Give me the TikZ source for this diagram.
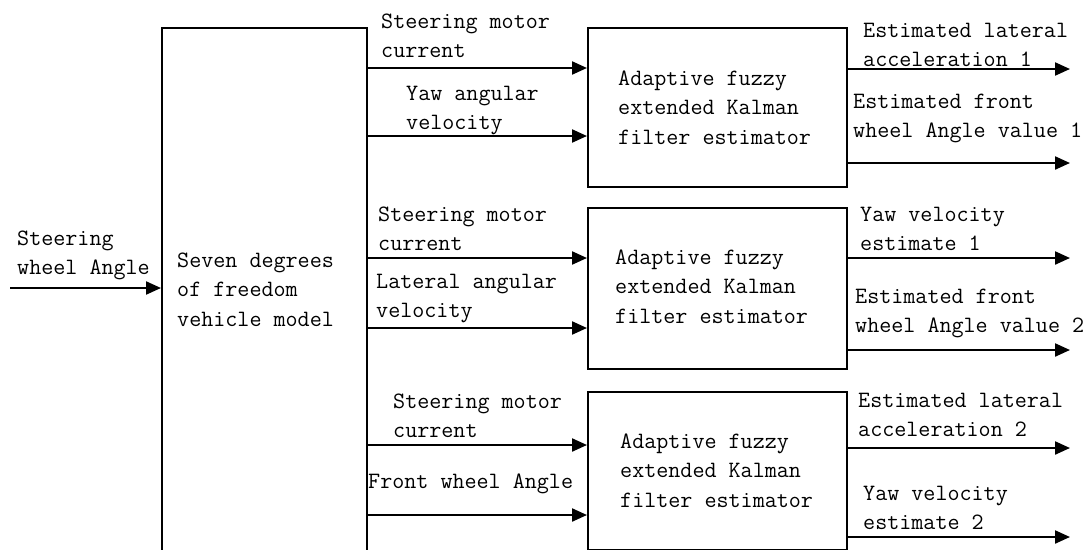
\documentclass[tikz,border=0pt]{standalone}
\usepackage{fontspec}
\usetikzlibrary{arrows.meta}
\begin{document}
% text nodes are placed by the baseline of their last line
\begin{tikzpicture}[x=1pt,y=-1pt,
  lbl/.style={anchor=base west, inner sep=0pt, align=left, font=\ttfamily\fontsize{23.4}{29.5}\selectfont},
  blk/.style={draw, line width=2.2pt, rectangle, anchor=north west, inner sep=0pt},
  arr/.style={line width=2.2pt, -{Triangle[length=15pt,width=13pt]}}]
\useasboundingbox (0,0) rectangle (1092,549);
\fill[white] (0,0) rectangle (1092,549);
\clip (0,0) rectangle (1092,549);
% blocks
\node[blk, minimum width=205pt, minimum height=620pt] (model) at (161,27) {};
\node[blk, minimum width=259pt, minimum height=159pt] (f1) at (587,27) {};
\node[blk, minimum width=259pt, minimum height=161pt] (f2) at (587,207) {};
\node[blk, minimum width=259pt, minimum height=158pt] (f3) at (587,391) {};
% block texts
\node[lbl] (tmodel) at (177,326) {Seven degrees\\of freedom\\vehicle model};
\node[lbl] (tf1) at (618,144) {Adaptive fuzzy\\extended Kalman\\filter estimator};
\node[lbl] (tf2) at (615,323) {Adaptive fuzzy\\extended Kalman\\filter estimator};
\node[lbl] (tf3) at (620,507) {Adaptive fuzzy\\extended Kalman\\filter estimator};
% input
\coordinate (in0) at (10,288);
\node[lbl] (tsw) at (17,274.5) {Steering\\wheel Angle};
\draw[arr] (in0) -- (model.west |- in0);
% signals to estimators
\coordinate (a1) at (0,68);
\coordinate (a2) at (0,136);
\coordinate (a3) at (0,258);
\coordinate (a4) at (0,328);
\coordinate (a5) at (0,445);
\coordinate (a6) at (0,515);
\draw[arr] (model.east |- a1) -- (f1.west |- a1);
\draw[arr] (model.east |- a2) -- (f1.west |- a2);
\draw[arr] (model.east |- a3) -- (f2.west |- a3);
\draw[arr] (model.east |- a4) -- (f2.west |- a4);
\draw[arr] (model.east |- a5) -- (f3.west |- a5);
\draw[arr] (model.east |- a6) -- (f3.west |- a6);
\node[lbl] (l1) at (381,57.5) {Steering motor\\current};
\node[lbl] (l2) at (406,129.5) {Yaw angular\\velocity};
\node[lbl] (l3) at (378,250.5) {Steering motor\\current};
\node[lbl] (l4) at (376,317.5) {Lateral angular\\velocity};
\node[lbl] (l5) at (393,437.5) {Steering motor\\current};
\node[lbl] (l6) at (368,488) {Front wheel Angle};
% outputs
\coordinate (o1) at (1070,69);
\coordinate (o2) at (1070,163);
\coordinate (o3) at (1070,258);
\coordinate (o4) at (1070,350);
\coordinate (o5) at (1070,448);
\coordinate (o6) at (1070,537);
\draw[arr] (f1.east |- o1) -- (o1);
\draw[arr] (f1.east |- o2) -- (o2);
\draw[arr] (f2.east |- o3) -- (o3);
\draw[arr] (f2.east |- o4) -- (o4);
\draw[arr] (f3.east |- o5) -- (o5);
\draw[arr] (f3.east |- o6) -- (o6);
\node[lbl] (r1) at (863,66.5) {Estimated lateral\\acceleration 1};
\node[lbl] (r2) at (853,137.5) {Estimated front\\wheel Angle value 1};
\node[lbl] (r3) at (860,250.5) {Yaw velocity\\estimate 1};
\node[lbl] (r4) at (855,332.5) {Estimated front\\wheel Angle value 2};
\node[lbl] (r5) at (858,436.5) {Estimated lateral\\acceleration 2};
\node[lbl] (r6) at (863,529.5) {Yaw velocity\\estimate 2};
\end{tikzpicture}
\end{document}
